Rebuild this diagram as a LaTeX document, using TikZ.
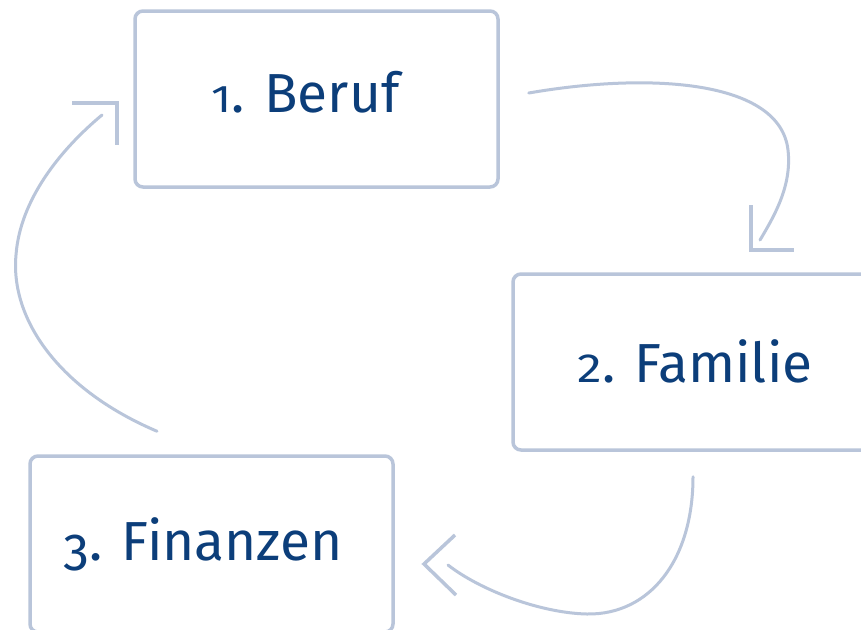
\documentclass[tikz,border=0pt]{standalone}
\usepackage{fontspec}
\usepackage{graphicx}
\setmainfont{Fira Sans}
\usetikzlibrary{calc}
\definecolor{linec}{RGB}{185,197,218}
\definecolor{txtc}{RGB}{12,62,122}
\newcommand\osOne{\scalebox{0.85}[0.7]{1}}
\newcommand\osTwo{\scalebox{0.9}[0.74]{2}}
\newcommand\osThree{\raisebox{-10pt}{\scalebox{0.95}{3}}}
\begin{document}
\begin{tikzpicture}[x=1pt,y=-1pt,
  box/.style={draw=linec, line width=3.5pt, rounded corners=8pt, inner sep=0pt, fill=white},
  lbl/.style={text=txtc, font=\fontsize{55}{60}\selectfont, inner sep=0pt, anchor=base},
  conn/.style={draw=linec, line width=3pt, line cap=round},
  head/.style={draw=linec, line width=3.5pt, line cap=butt, line join=miter}]
\useasboundingbox (0,0) rectangle (861,629);
\clip (0,0) rectangle (861,629);
\fill[white] (0,0) rectangle (861,629);
% boxes
\node[box, minimum width=363pt, minimum height=176pt] (beruf) at (316.5,99) {};
\node[box, minimum width=367pt, minimum height=176pt] (familie) at (696.5,362) {};
\node[box, minimum width=363pt, minimum height=176pt] (finanzen) at (211.5,544) {};
% labels
\node[lbl] (tberuf) at (305.5,112) {\osOne. Beruf};
\node[lbl] (tfamilie) at (695,382) {\osTwo. Familie};
\node[lbl] (tfinanzen) at (203,560) {\osThree. Finanzen};
% connector end points
\coordinate (a1s) at ($(beruf.east)+(29,-6)$);
\coordinate (a1m) at (788,150);
\coordinate (a1e) at (760,240);
\coordinate (a2s) at ($(familie.south)+(-3.5,25)$);
\coordinate (a2m) at (587,614);
\coordinate (a2e) at (448,565);
\coordinate (a3s) at ($(finanzen.north)+(-54.5,-23)$);
\coordinate (a3m) at (16,255);
\coordinate (a3e) at (102,115);
% connectors
\draw[conn] (a1s) .. controls (650,72) and (780,80) .. (a1m) .. controls (792,185) and (775,215) .. (a1e);
\draw[conn] (a2s) .. controls (693,560) and (650,615) .. (a2m) .. controls (540,613) and (480,590) .. (a2e);
\draw[conn] (a3s) .. controls (60,390) and (10,320) .. (a3m) .. controls (20,200) and (60,150) .. (a3e);
% arrow heads
\coordinate (h1) at (751,250);
\coordinate (h2) at (424,564);
\coordinate (h3) at (117,103);
\draw[head] ($(h1)+(0,-45)$) -- (h1) -- ($(h1)+(43,0)$);
\draw[head] ($(h2)+(31,-29)$) -- (h2) -- ($(h2)+(32,31)$);
\draw[head] ($(h3)+(-45,0)$) -- (h3) -- ($(h3)+(0,42)$);
\end{tikzpicture}
\end{document}
